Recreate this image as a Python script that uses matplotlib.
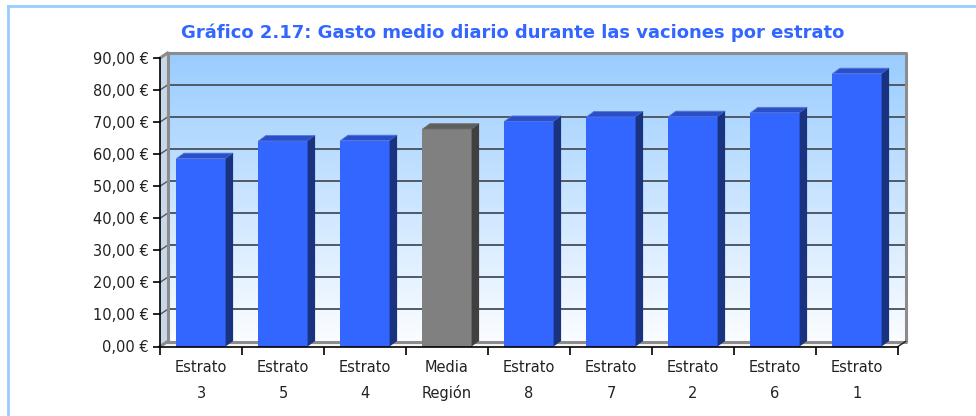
import numpy as np
import matplotlib
matplotlib.use("Agg")
import matplotlib.pyplot as plt
from matplotlib.patches import Polygon, Rectangle
from matplotlib.colors import LinearSegmentedColormap

# data
categories = ["Estrato\n3", "Estrato\n5", "Estrato\n4", "Media\nRegión", "Estrato\n8",
              "Estrato\n7", "Estrato\n2", "Estrato\n6", "Estrato\n1"]
gasto = [58.6, 64.1, 64.2, 67.8, 70.2, 71.6, 71.7, 72.9, 85.1]
yticks = [0, 10, 20, 30, 40, 50, 60, 70, 80, 90]
title = "Gráfico 2.17: Gasto medio diario durante las vaciones por estrato"

W, H = 976, 416
fig = plt.figure(figsize=(W / 100, H / 100), dpi=100)
fig.patch.set_facecolor("white")

# outer light-blue frame (cut off at right/bottom like the source)
fig.add_artist(plt.Line2D([8 / W, 1], [1 - 6 / H, 1 - 6 / H], color="#99CCFF", lw=2))
fig.add_artist(plt.Line2D([8 / W, 8 / W], [0, 1 - 6 / H], color="#99CCFF", lw=2))

# front plane of the plot area, in pixels
x0p, x1p, y0p, y1p = 160, 898, 346.5, 58
ax = fig.add_axes([x0p / W, 1 - y0p / H, (x1p - x0p) / W, (y0p - y1p) / H])
n = len(gasto)
ax.patch.set_visible(False)

# depth offset (data units)
dx = 7.5 / ((x1p - x0p) / n)
dy = 5.0 / ((y0p - y1p) / 90)

# back wall gradient
cmap = LinearSegmentedColormap.from_list("wall", ["#FBFDFF", "#99CCFF"])
grad = np.linspace(0, 1, 256).reshape(-1, 1)
ax.imshow(grad, cmap=cmap, origin="lower", aspect="auto",
          extent=(dx, n + dx, dy, 90 + dy), zorder=0, clip_on=False)
ax.set_xlim(0, n)
ax.set_ylim(0, 90)

# side wall and floor
ax.add_patch(Polygon([(0, 0), (dx, dy), (dx, 90 + dy), (0, 90)], closed=True,
                     facecolor="#C8D8E8", edgecolor="none", zorder=0.5, clip_on=False))
ax.add_patch(Polygon([(0, 0), (n, 0), (n + dx, dy), (dx, dy)], closed=True,
                     facecolor="#F4F4F4", edgecolor="none", zorder=0.5, clip_on=False))

# gridlines on walls
for v in yticks[1:-1]:
    ax.plot([dx, n + dx], [v + dy, v + dy], color="#505A66", lw=1.4, zorder=1, clip_on=False)
for v in yticks:
    ax.plot([0, dx], [v, v + dy], color="#505A66", lw=1.0, zorder=1, clip_on=False)

# wall border
ax.plot([dx, dx, n + dx, n + dx, dx], [dy, 90 + dy, 90 + dy, dy, dy],
        color="#8C8C8C", lw=2.2, zorder=1.2, clip_on=False)
ax.plot([0, dx], [90, 90 + dy], color="#8C8C8C", lw=2.2, zorder=1.2, clip_on=False)
ax.plot([0, dx], [0, dy], color="#8C8C8C", lw=2.2, zorder=1.2, clip_on=False)
ax.plot([n, n + dx], [0, dy], color="#202020", lw=1.0, zorder=1.2, clip_on=False)

# 3D bars
bw = 0.6
bdx = 7.5 / ((x1p - x0p) / n)
bdy = 5.5 / ((y0p - y1p) / 90)
for i, v in enumerate(gasto):
    if categories[i].startswith("Media"):
        front, top, side, edge = "#808080", "#5E5E5E", "#404040", "#777777"
    else:
        front, top, side, edge = "#3366FF", "#2A4FC8", "#1A3380", "#5577DD"
    xl = i + (1 - bw) / 2
    ax.add_patch(Rectangle((xl, 0), bw, v, facecolor=front, edgecolor="none", zorder=3))
    ax.add_patch(Polygon([(xl, v), (xl + bdx, v + bdy), (xl + bw + bdx, v + bdy), (xl + bw, v)],
                         closed=True, facecolor=top, edgecolor=edge, lw=0.6, zorder=3))
    ax.add_patch(Polygon([(xl + bw, 0), (xl + bw + bdx, bdy), (xl + bw + bdx, v + bdy), (xl + bw, v)],
                         closed=True, facecolor=side, edgecolor="none", zorder=3))

# axes
for s in ["top", "right"]:
    ax.spines[s].set_visible(False)
for s in ["left", "bottom"]:
    ax.spines[s].set_color("black")
    ax.spines[s].set_linewidth(1.2)
    ax.spines[s].set_zorder(5)
ax.set_yticks(yticks)
ax.set_yticklabels([f"{v:.2f} €".replace(".", ",") for v in yticks])
ax.set_xticks(range(n + 1))
ax.set_xticklabels([])
ax.tick_params(axis="y", direction="out", length=5, width=1.2, pad=3,
               labelsize=10.5, labelcolor="#222222")
ax.tick_params(axis="x", direction="out", length=6, width=1.2)

for i, lab in enumerate(categories):
    l1, l2 = lab.split("\n")
    ax.text(i + 0.5, -6.5, l1, ha="center", va="center", fontsize=10.5, color="#222222")
    ax.text(i + 0.5, -14.6, l2, ha="center", va="center", fontsize=10.5, color="#222222")

fig.text(513 / W, 1 - 33 / H, title, ha="center", va="center",
         fontsize=13, fontweight="bold", color="#3366FF")

fig.savefig("out.png", dpi=100)
